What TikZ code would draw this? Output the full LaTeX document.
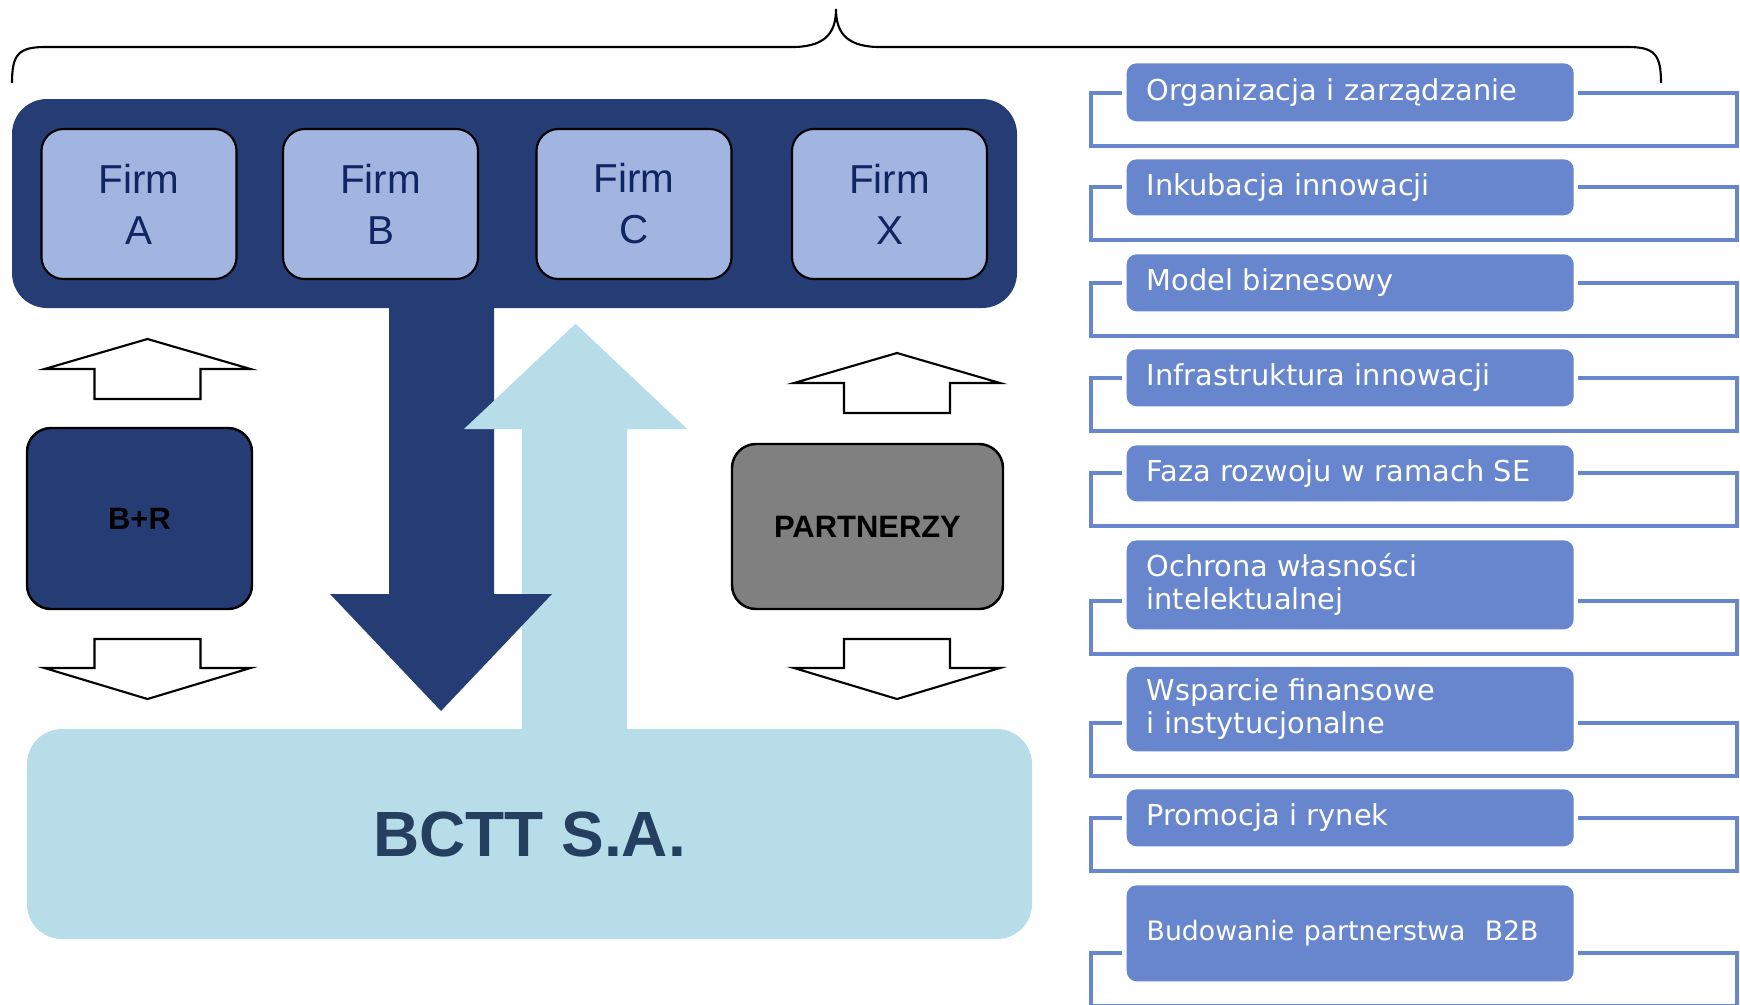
\documentclass[tikz,border=0pt]{standalone}
\usepackage{fontspec}
\setmainfont{Liberation Sans}
\newfontfamily\listfont{DejaVu Sans}
\usepackage{tikz}

\definecolor{navy}{RGB}{37,61,116}
\definecolor{firmfill}{RGB}{162,181,224}
\definecolor{firmtext}{RGB}{16,38,98}
\definecolor{lightblue}{RGB}{183,221,232}
\definecolor{bcttext}{RGB}{36,63,96}
\definecolor{partgray}{RGB}{128,128,128}
\definecolor{itemblue}{RGB}{103,134,206}

\begin{document}
\begin{tikzpicture}[
  firm/.style={draw=black, line width=0.6pt, fill=firmfill, rounded corners=0.22cm,
    minimum width=1.95cm, minimum height=1.5cm, align=center, text=firmtext,
    font=\fontsize{11.5}{14.5}\selectfont},
  unit/.style={draw=black, line width=0.7pt, rounded corners=0.24cm,
    font=\bfseries\fontsize{8.8}{10}\selectfont},
  hollow/.style={draw=black, line width=0.6pt, fill=white},
  item/.style={fill=itemblue, rounded corners=0.1cm, anchor=south west,
    minimum width=4.47cm, text width=4.07cm, inner xsep=0.2cm, align=left,
    text=white, font=\listfont\fontsize{8.2}{9.4}\selectfont},
  bracket/.style={draw=itemblue, line width=0.9pt}
]
\useasboundingbox (0,0) rectangle (17.4,-10.04);

% brace over everything
\draw[line width=0.6pt] (0.12,-0.83) .. controls (0.12,-0.55) and (0.18,-0.47) .. (0.45,-0.47)
  -- (7.95,-0.47) .. controls (8.28,-0.46) and (8.36,-0.3) .. (8.36,-0.09)
  .. controls (8.36,-0.3) and (8.44,-0.46) .. (8.77,-0.47)
  -- (16.28,-0.47) .. controls (16.55,-0.47) and (16.61,-0.55) .. (16.61,-0.83);

\node[fill=navy, rounded corners=0.35cm, minimum width=10.05cm, minimum height=2.09cm] (firms) at (5.145,-2.035) {};
\foreach \x/\l in {1.39/A, 3.805/B, 6.34/C, 8.895/X} {
\node[firm] (firm\l) at (\x,-2.04) {Firm\\\l};
}

\node[fill=lightblue, rounded corners=0.35cm, minimum width=10.05cm, minimum height=2.1cm,
  text=bcttext, font=\bfseries\fontsize{18.2}{20}\selectfont] (bctt) at (5.295,-8.34) {BCTT S.A.};

% big arrows
\fill[lightblue] (5.22,-7.4) -- (5.22,-4.29) -- (4.64,-4.29) -- (5.755,-3.24) -- (6.87,-4.29) -- (6.27,-4.29) -- (6.27,-7.4) -- cycle;
\fill[navy] (3.89,-3.0) -- (4.94,-3.0) -- (4.94,-5.94) -- (5.52,-5.94) -- (4.41,-7.11) -- (3.30,-5.94) -- (3.89,-5.94) -- cycle;
\fill[lightblue] (4.64,-4.29) -- (5.755,-3.24) -- (6.87,-4.29) -- cycle;

\node[unit, fill=navy, minimum width=2.25cm, minimum height=1.81cm] (br) at (1.395,-5.185) {B+R};
\node[unit, fill=partgray, minimum width=2.71cm, minimum height=1.65cm] (partn) at (8.675,-5.265) {PARTNERZY};

\foreach \x/\y in {1.475/3.39, 8.97/3.53} {
\draw[hollow] (\x-0.53,-\y-0.6) -- (\x-0.53,-\y-0.3) -- (\x-1.03,-\y-0.3) -- (\x,-\y)
  -- (\x+1.03,-\y-0.3) -- (\x+0.53,-\y-0.3) -- (\x+0.53,-\y-0.6) -- cycle;
\draw[hollow] (\x-0.53,-6.39) -- (\x+0.53,-6.39) -- (\x+0.53,-6.68) -- (\x+1.03,-6.68)
  -- (\x,-6.99) -- (\x-1.03,-6.68) -- (\x-0.53,-6.68) -- cycle;
}

% list on the right
\foreach \b/\h/\t [count=\i] in {1.22/0.58cm/{Organizacja i zarządzanie},
  2.16/0.56cm/{Inkubacja innowacji}, 3.12/0.57cm/{Model biznesowy},
  4.07/0.57cm/{Infrastruktura innowacji}, 5.02/0.56cm/{Faza rozwoju w ramach SE},
  6.30/0.89cm/{Ochrona własności\\intelektualnej},
  7.52/0.84cm/{Wsparcie finansowe\\i instytucjonalne},
  8.47/0.57cm/{Promocja i rynek},
  9.82/0.96cm/{\fontsize{7.6}{9}\selectfont\mbox{Budowanie partnerstwa~ B2B}}} {
\draw[bracket] (11.22,-\b+0.29) -| (10.91,-\b-0.24) -| (17.37,-\b+0.29) -- (15.78,-\b+0.29);
\node[item, minimum height=\h] (item\i) at (11.26,-\b) {\t};
}
\end{tikzpicture}
\end{document}
